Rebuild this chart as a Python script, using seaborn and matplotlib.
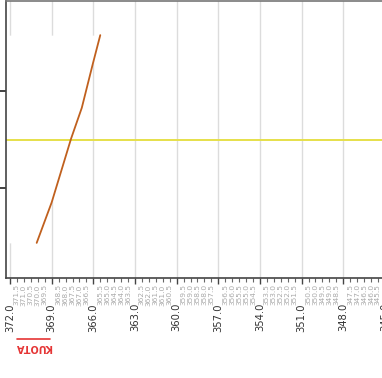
import numpy as np
import pandas as pd
import matplotlib.pyplot as plt
from matplotlib.ticker import MultipleLocator, FormatStrFormatter
from matplotlib.lines import Line2D
import seaborn as sns

# profile values
kuota = [370.08, 369.0, 367.6, 366.83, 366.02, 365.5]
offset = [-2.12, -1.29, 0.02, 0.65, 1.57, 2.14]
ref_level = 0.0
bracket_ticks = [-1, 1]
label_text = 'KUOTA'

df = pd.DataFrame({'kuota': kuota, 'offset': offset})

sns.set_style('white')
plt.rcParams['font.family'] = ['DejaVu Sans']

fig = plt.figure(figsize=(3.82, 3.78), dpi=100)
ax = fig.add_axes([6 / 382, 1 - 278 / 378, 1.01, 277 / 378])

ax.set_xlim(372.29, 344.5)
ax.set_ylim(-2.84, 2.84)

# gridlines at major ticks
ax.xaxis.set_major_locator(MultipleLocator(3))
ax.xaxis.set_minor_locator(MultipleLocator(0.5))
ax.grid(axis='x', which='major', color='#dcdcdc', linewidth=1.0, zorder=0)
ax.set_axisbelow(True)

# white terrain fill hides grid left of the profile
ax.fill_betweenx(df['offset'], df['kuota'], 372.29, color='white', zorder=1, linewidth=0)

ax.axhline(ref_level, color='#e6e04a', linewidth=1.4, zorder=2)
sns.lineplot(data=df, x='kuota', y='offset', color='#c0601e', linewidth=1.3, ax=ax, zorder=3,
             sort=False)

ax.set_xlabel('')
ax.set_ylabel('')

# x tick labels
ax.xaxis.set_major_formatter(FormatStrFormatter('%.1f'))
ax.xaxis.set_minor_formatter(FormatStrFormatter('%.1f'))
ax.tick_params(axis='x', which='major', direction='out', length=4, width=1, color='#444444',
               labelsize=7.2, labelcolor='#333333', labelrotation=90, pad=14, bottom=True)
ax.tick_params(axis='x', which='minor', direction='out', length=3, width=0.8, color='#666666',
               labelsize=5.4, labelcolor='#aaaaaa', labelrotation=90, pad=1.5, bottom=True)

# y ticks: only the bracket ticks, labels off the picture
ax.set_yticks(bracket_ticks)
ax.set_yticklabels([])
ax.tick_params(axis='y', which='major', direction='out', length=4.5, width=1.3, color='#333333', left=True)

for side in ['left', 'bottom', 'top', 'right']:
    ax.spines[side].set_color('#444444')
    ax.spines[side].set_linewidth(1.2)
ax.spines['top'].set_color('#777777')

# upside down axis title with its rule
fig.text(34 / 382, 1 - 347 / 378, label_text, rotation=180, color='#e53535', fontweight='bold',
         fontsize=7, ha='center', va='center')
fig.add_artist(Line2D([17 / 382, 50 / 382], [1 - 339 / 378, 1 - 339 / 378], color='#e53535',
                      linewidth=1.2, transform=fig.transFigure))

plt.savefig('out.png', dpi=100)
